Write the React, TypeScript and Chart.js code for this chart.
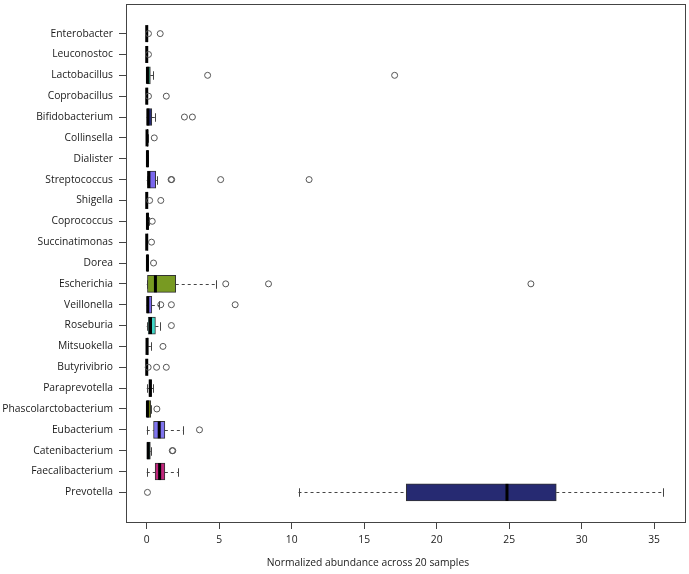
import React, { useEffect, useRef } from "react";
import { Chart, registerables } from "chart.js";
Chart.register(...registerables);

const categories = [
  "Enterobacter", "Leuconostoc", "Lactobacillus", "Coprobacillus", "Bifidobacterium",
  "Collinsella", "Dialister", "Streptococcus", "Shigella", "Coprococcus",
  "Succinatimonas", "Dorea", "Escherichia", "Veillonella", "Roseburia",
  "Mitsuokella", "Butyrivibrio", "Paraprevotella", "Phascolarctobacterium", "Eubacterium",
  "Catenibacterium", "Faecalibacterium", "Prevotella",
];
const whiskerLow = [0, 0, 0, 0, 0, 0, 0, 0, 0, 0, 0, 0, 0, 0, 0, 0, 0, 0, 0, 0, 0, 0, 10.47];
const q1 = [0, 0, 0.02, 0, 0.02, 0, 0.02, 0.05, 0, 0.02, 0, 0.02, 0.05, 0.02, 0.1, 0, 0, 0.15, 0, 0.47, 0, 0.58, 17.9];
const median = [0, 0, 0.05, 0, 0.08, 0.02, 0.05, 0.15, 0, 0.05, 0, 0.05, 0.6, 0.07, 0.26, 0.02, 0, 0.25, 0.05, 0.86, 0.1, 0.89, 24.85];
const q3 = [0.03, 0.02, 0.25, 0.01, 0.35, 0.07, 0.1, 0.62, 0.02, 0.12, 0.04, 0.1, 2.0, 0.35, 0.6, 0.1, 0.01, 0.33, 0.28, 1.25, 0.25, 1.25, 28.25];
const whiskerHigh = [0.05, 0.03, 0.45, 0.02, 0.57, 0.1, 0.12, 0.7, 0.03, 0.15, 0.05, 0.12, 4.77, 0.88, 0.93, 0.28, 0.02, 0.45, 0.3, 2.52, 0.3, 2.15, 35.6];
const outliers = [
  [0.12, 0.93], [0.12], [4.2, 17.1], [0.12, 1.35], [2.6, 3.15],
  [0.52], [], [1.68, 1.72, 5.1, 11.2], [0.2, 0.97], [0.38],
  [0.33], [0.47], [5.45, 8.4, 26.5], [0.97, 1.7, 6.1], [1.7],
  [1.12], [0.1, 0.68, 1.35], [], [0.7], [3.64],
  [1.76, 1.8], [], [0.05],
];
const boxColors = [
  "#333333", "#333333", "#2e8b6e", "#333333", "#272b73",
  "#333333", "#333333", "#7b68ee", "#333333", "#333333",
  "#333333", "#333333", "#789a22", "#7b68ee", "#40d8c8",
  "#333333", "#333333", "#2a2a2a", "#6b7a10", "#7f74ee",
  "#2e6b5c", "#c0267c", "#262a72",
];
const xTicks = [0, 5, 10, 15, 20, 25, 30, 35];
const xLabel = "Normalized abundance across 20 samples";

const n = categories.length;
const posOf = (i: number) => n - i;

export default function App() {
  const ref = useRef<HTMLCanvasElement>(null);
  useEffect(() => {
    const canvas = ref.current!;
    const font = { family: "'Open Sans', sans-serif", size: 10.3 };
    const boxH = 17;
    const boxData = categories.map((_, i) => ({ x: [q1[i], q3[i]], y: posOf(i) }));
    const outlierData: { x: number; y: number }[] = [];
    categories.forEach((_, i) => outliers[i].forEach((v) => outlierData.push({ x: v, y: posOf(i) })));

    const boxPlugin = {
      id: "boxparts",
      beforeDatasetsDraw(chart: any) {
        const { ctx } = chart;
        const xs = chart.scales.x, ys = chart.scales.y;
        ctx.save();
        ctx.strokeStyle = "#444";
        ctx.lineWidth = 1;
        categories.forEach((_, i) => {
          const y = Math.round(ys.getPixelForValue(posOf(i))) + 0.5;
          ctx.setLineDash([3, 3]);
          [[whiskerLow[i], q1[i]], [q3[i], whiskerHigh[i]]].forEach(([a, b]) => {
            if (b > a) {
              ctx.beginPath();
              ctx.moveTo(xs.getPixelForValue(a), y);
              ctx.lineTo(xs.getPixelForValue(b), y);
              ctx.stroke();
            }
          });
          ctx.setLineDash([]);
          [whiskerLow[i], whiskerHigh[i]].forEach((v) => {
            const x = Math.round(xs.getPixelForValue(v)) + 0.5;
            ctx.beginPath();
            ctx.moveTo(x, y - boxH / 4);
            ctx.lineTo(x, y + boxH / 4);
            ctx.stroke();
          });
        });
        ctx.restore();
      },
      afterDatasetDraw(chart: any, args: any) {
        if (args.index !== 0) return;
        const { ctx } = chart;
        const xs = chart.scales.x, ys = chart.scales.y;
        ctx.save();
        ctx.strokeStyle = "#000";
        ctx.lineWidth = 3;
        categories.forEach((_, i) => {
          const y = ys.getPixelForValue(posOf(i));
          const x = xs.getPixelForValue(median[i]);
          ctx.beginPath();
          ctx.moveTo(x, y - boxH / 2);
          ctx.lineTo(x, y + boxH / 2);
          ctx.stroke();
        });
        ctx.restore();
      },
      afterDraw(chart: any) {
        const { ctx, chartArea } = chart;
        ctx.save();
        ctx.strokeStyle = "#444";
        ctx.lineWidth = 1;
        ctx.strokeRect(
          Math.round(chartArea.left) + 0.5,
          Math.round(chartArea.top) + 0.5,
          Math.round(chartArea.right - chartArea.left),
          Math.round(chartArea.bottom - chartArea.top)
        );
        ctx.fillStyle = "#1a1a1a";
        ctx.font = `${font.size}px ${font.family}`;
        ctx.textAlign = "center";
        ctx.textBaseline = "middle";
        ctx.fillText(xLabel, chartArea.left + 242, chartArea.bottom + 41);
        ctx.restore();
      },
    };

    const chart = new Chart(canvas, {
      type: "bar",
      data: {
        datasets: [
          {
            type: "bar",
            data: boxData as any,
            backgroundColor: boxColors,
            borderColor: "#333",
            borderWidth: 1,
            borderSkipped: false,
            barThickness: boxH,
            order: 2,
          } as any,
          {
            type: "line",
            data: outlierData as any,
            showLine: false,
            pointRadius: 3,
            pointHoverRadius: 3,
            pointBorderColor: "#555",
            pointBackgroundColor: "rgba(0,0,0,0)",
            pointBorderWidth: 1,
            order: 1,
          } as any,
        ],
      },
      options: {
        indexAxis: "y",
        responsive: false,
        animation: false,
        layout: { padding: { left: 0, right: 4, top: 3, bottom: 0 } },
        plugins: { legend: { display: false }, tooltip: { enabled: false } },
        scales: {
          x: {
            type: "linear",
            offset: false,
            min: -1.43,
            max: 37.13,
            afterBuildTicks: (s: any) => {
              s.ticks = xTicks.map((v) => ({ value: v }));
            },
            afterFit: (s: any) => {
              s.height = 52;
              s.paddingLeft = 0;
              s.paddingRight = 0;
            },
            grid: { display: true, drawOnChartArea: false, drawTicks: true, tickLength: 7, color: "#444", offset: false },
            border: { display: false },
            ticks: { font, color: "#1a1a1a", padding: 5, maxRotation: 0, autoSkip: false, callback: (v: any) => String(v) },
          },
          y: {
            type: "linear",
            offset: false,
            min: -0.42,
            max: 24.42,
            afterBuildTicks: (s: any) => {
              s.ticks = categories.map((_, i) => ({ value: posOf(i) }));
            },
            afterFit: (s: any) => {
              s.width = 126;
              s.paddingTop = 0;
              s.paddingBottom = 0;
            },
            grid: { display: true, drawOnChartArea: false, drawTicks: true, tickLength: 7, color: "#444", offset: false },
            border: { display: false },
            ticks: { font, color: "#1a1a1a", padding: 6, autoSkip: false, callback: (v: any) => categories[n - v] },
          },
        } as any,
      },
      plugins: [boxPlugin],
    });
    return () => chart.destroy();
  }, []);
  return (
    <div style={{ position: "absolute", left: 0, top: 0, width: 689, height: 574, background: "#fff" }}>
      <canvas ref={ref} width={689} height={574} style={{ display: "block" }} />
    </div>
  );
}
